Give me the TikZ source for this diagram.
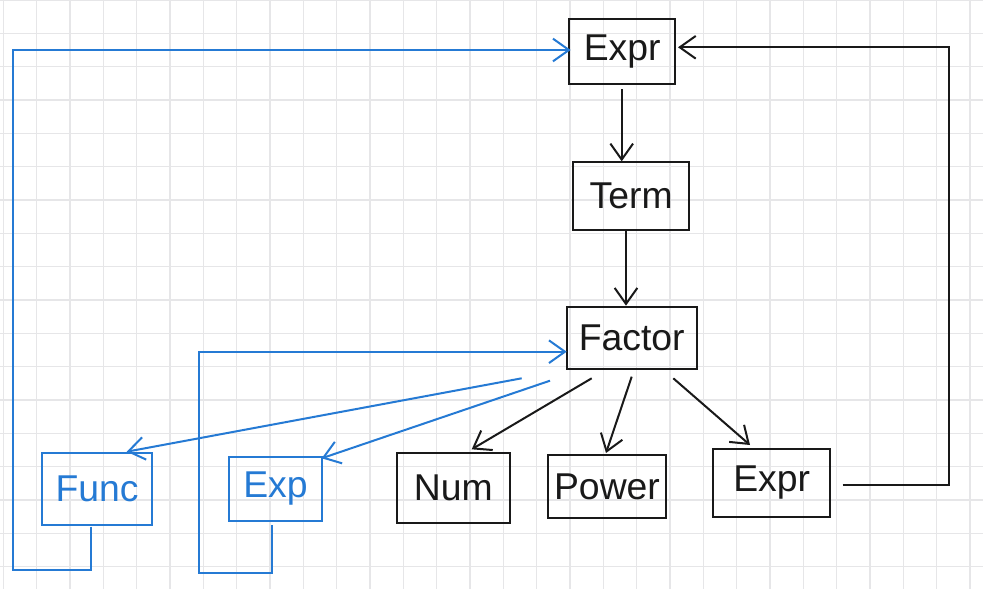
\documentclass[tikz,border=0pt]{standalone}
\usepackage{fontspec}
\setmainfont{Liberation Sans}
\usetikzlibrary{arrows.meta}
\definecolor{penblue}{RGB}{37,122,212}
\definecolor{pengray}{RGB}{230,230,232}
\definecolor{penblack}{RGB}{25,25,25}
\begin{document}
\begin{tikzpicture}[x=0.75pt,y=-0.75pt,
  gridline/.style={draw=pengray,line width=0.9pt},
  box/.style={draw=penblack,line width=1.5pt,inner sep=0pt,font=\fontsize{28}{32}\selectfont,text=penblack},
  bbox/.style={draw=penblue,line width=1.5pt,inner sep=0pt,font=\fontsize{28}{32}\selectfont,text=penblue},
  link/.style={draw=penblack,line width=1.5pt,-{Straight Barb[length=12pt,width=17pt,line width=1.5pt]}},
  blink/.style={draw=penblue,line width=1.5pt,-{Straight Barb[length=12pt,width=17pt,line width=1.5pt]}}]
\useasboundingbox (0,0) rectangle (983,589);
\fill[white] (0,0) rectangle (983,589);
% grid
\foreach \i in {0,...,29} \draw[gridline] ({3.4+33.333*\i},0) -- ({3.4+33.333*\i},589);
\foreach \j in {0,...,17} \draw[gridline] (0,{33.333*\j}) -- (983,{33.333*\j});
% boxes
\node[box,minimum width=79.3pt,minimum height=48.5pt] (expr) at (622.2,51.7) {Expr};
\node[box,minimum width=86.8pt,minimum height=50.8pt] (term) at (631.2,196.2) {Term};
\node[box,minimum width=97.5pt,minimum height=47pt] (factor) at (631.7,338) {Factor};
\node[bbox,minimum width=83pt,minimum height=54.2pt] (func) at (97,488.9) {Func};
\node[bbox,minimum width=70.2pt,minimum height=48.2pt] (exp) at (275.5,488.9) {Exp};
\node[box,minimum width=85pt,minimum height=53pt] (num) at (453.4,488) {Num};
\node[box,minimum width=88pt,minimum height=47.5pt] (power) at (607,486.7) {Power};
\node[box,minimum width=87.5pt,minimum height=50.5pt] (expr2) at (771.7,483) {Expr};
% coordinates for free ends
\coordinate (eS) at (621.7,89);
\coordinate (tS) at (626,230);
\coordinate (fNum) at (591.7,378.3);
\coordinate (tNum) at (471.7,449.3);
\coordinate (fPow) at (631.7,376.7);
\coordinate (tPow) at (606,453);
\coordinate (fEx) at (673.3,378.3);
\coordinate (tEx) at (750,445);
\coordinate (rS) at (842.7,485.3);
\coordinate (rC1) at (949.3,485.3);
\coordinate (rC2) at (949.3,47.3);
\coordinate (rT) at (678,47.3);
\coordinate (fFunc) at (521.7,378.3);
\coordinate (tFunc) at (126.7,451.7);
\coordinate (fExp) at (550,380.7);
\coordinate (tExp) at (321.7,458.3);
\coordinate (lf1) at (91,526.7);
\coordinate (lf2) at (91,570);
\coordinate (lf3) at (13.3,570);
\coordinate (lf4) at (13.3,50);
\coordinate (lfT) at (570.7,50);
\coordinate (le1) at (271.7,525);
\coordinate (le2) at (271.7,573.3);
\coordinate (le3) at (199,573.3);
\coordinate (le4) at (199,351.7);
\coordinate (leT) at (566.7,351.7);
% black connectors
\draw[link] (eS) -- (eS |- term.north);
\draw[link] (tS) -- (tS |- factor.north);
\draw[link] (fNum) -- (tNum);
\draw[link] (fPow) -- (tPow);
\draw[link] (fEx) -- (tEx);
\draw[link] (rS) -- (rC1) -- (rC2) -- (rT);
% blue connectors
\draw[blink] (fFunc) -- (tFunc);
\draw[blink] (fExp) -- (tExp);
\draw[blink] (lf1) -- (lf2) -- (lf3) -- (lf4) -- (lfT);
\draw[blink] (le1) -- (le2) -- (le3) -- (le4) -- (leT);
\end{tikzpicture}
\end{document}
